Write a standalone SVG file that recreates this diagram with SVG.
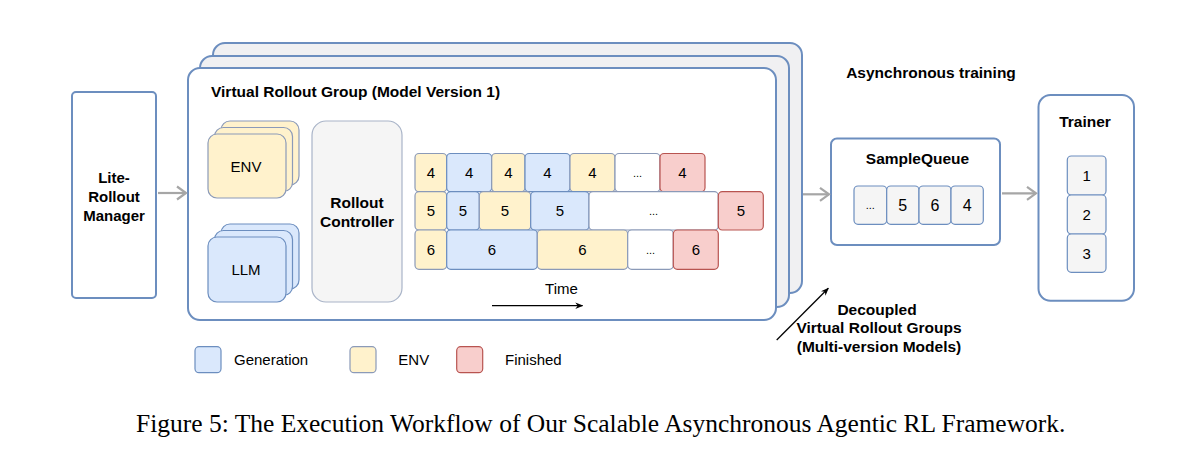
<svg xmlns="http://www.w3.org/2000/svg" width="1200" height="466" viewBox="0 0 1200 466">
<style>
.t{font-family:"Liberation Sans",Arial,sans-serif;font-size:15px;fill:#000;text-anchor:middle}
.b{font-weight:bold;font-size:15.5px}
.d{font-size:11px}
.box{fill:#fff;stroke:#6c8ebf;stroke-width:2}
.back{fill:#f0f0f2;stroke:#6c8ebf;stroke-width:2}
.gen{fill:#dae8fc;stroke:#6c8ebf;stroke-width:1.2}
.env{fill:#fff2cc;stroke:#8b9ab8;stroke-width:1.2}
.fin{fill:#f8cecc;stroke:#b85450;stroke-width:1.2}
.wh{fill:#fff;stroke:#8b9ab8;stroke-width:1.2}
.gr{fill:#f5f5f5;stroke:#6c8ebf;stroke-width:1.2}
.ga{fill:none;stroke:#a6a6a6;stroke-width:2.2}
</style>
<defs>
<marker id="blk" viewBox="0 0 10 10" refX="9" refY="5" markerWidth="8" markerHeight="8" orient="auto" markerUnits="userSpaceOnUse">
<path d="M0,1 L10,5 L0,9 L3,5 Z" fill="#000"/>
</marker>
</defs>
<rect width="1200" height="466" fill="#fff"/>

<g id="manager">
<rect class="box" x="72" y="92" width="84" height="206" rx="4"/>
<text class="t b" x="114" y="183" style="font-size:15px">Lite-</text>
<text class="t b" x="114" y="202" style="font-size:15px">Rollout</text>
<text class="t b" x="114" y="221" style="font-size:15px">Manager</text>
</g>

<g id="rollout-groups">
<rect class="back" x="213" y="43" width="589" height="250" rx="12"/>
<rect class="back" x="200" y="56" width="589" height="251" rx="12"/>
<rect class="box" x="188" y="68" width="588" height="252" rx="12"/>
<text class="t b" x="211" y="97" style="text-anchor:start">Virtual Rollout Group (Model Version 1)</text>
</g>

<g id="env">
<rect class="env" x="221" y="121" width="78" height="64" rx="9"/>
<rect class="env" x="214.5" y="127.5" width="78" height="64" rx="9"/>
<rect class="env" x="208" y="134" width="78" height="64" rx="9"/>
<text class="t" x="246" y="172">ENV</text>
</g>

<g id="llm">
<rect class="gen" x="221" y="224" width="78" height="65" rx="9"/>
<rect class="gen" x="214.5" y="230.5" width="78" height="65" rx="9"/>
<rect class="gen" x="208" y="237" width="78" height="65" rx="9"/>
<text class="t" x="246" y="275">LLM</text>
</g>

<g id="controller">
<rect x="312" y="121" width="90" height="181" rx="14" fill="#f5f5f5" stroke="#a9b4c8" stroke-width="1.2"/>
<text class="t b" x="357" y="208">Rollout</text>
<text class="t b" x="357" y="227">Controller</text>
</g>

<g id="timeline">
<rect class="env" x="415" y="153.5" width="31.7" height="38.2" rx="4"/>
<rect class="gen" x="446.7" y="153.5" width="45" height="38.2" rx="4"/>
<rect class="env" x="491.7" y="153.5" width="33.3" height="38.2" rx="4"/>
<rect class="gen" x="525" y="153.5" width="45" height="38.2" rx="4"/>
<rect class="env" x="570" y="153.5" width="45" height="38.2" rx="4"/>
<rect class="wh" x="615" y="153.5" width="45" height="38.2" rx="4"/>
<rect class="fin" x="660" y="153.5" width="45" height="38.2" rx="4"/>
<text class="t" x="430.8" y="178">4</text>
<text class="t" x="469.2" y="178">4</text>
<text class="t" x="508.3" y="178">4</text>
<text class="t" x="547.5" y="178">4</text>
<text class="t" x="592.5" y="178">4</text>
<text class="t d" x="637.5" y="177">...</text>
<text class="t" x="682.5" y="178">4</text>

<rect class="env" x="415" y="191.7" width="31.7" height="38.3" rx="4"/>
<rect class="gen" x="446.7" y="191.7" width="32.6" height="38.3" rx="4"/>
<rect class="env" x="479.3" y="191.7" width="51.4" height="38.3" rx="4"/>
<rect class="gen" x="530.7" y="191.7" width="58.3" height="38.3" rx="4"/>
<rect class="wh" x="589" y="191.7" width="129.3" height="38.3" rx="4"/>
<rect class="fin" x="718.3" y="191.7" width="45" height="38.3" rx="4"/>
<text class="t" x="430.8" y="216.2">5</text>
<text class="t" x="463" y="216.2">5</text>
<text class="t" x="505" y="216.2">5</text>
<text class="t" x="559.8" y="216.2">5</text>
<text class="t d" x="653.6" y="215.2">...</text>
<text class="t" x="740.8" y="216.2">5</text>

<rect class="env" x="415" y="230" width="31.7" height="39.3" rx="4"/>
<rect class="gen" x="446.7" y="230" width="90.6" height="39.3" rx="4"/>
<rect class="env" x="537.3" y="230" width="90.4" height="39.3" rx="4"/>
<rect class="wh" x="627.7" y="230" width="45.6" height="39.3" rx="4"/>
<rect class="fin" x="673.3" y="230" width="45" height="39.3" rx="4"/>
<text class="t" x="430.8" y="255">6</text>
<text class="t" x="492" y="255">6</text>
<text class="t" x="582.5" y="255">6</text>
<text class="t d" x="650.5" y="254">...</text>
<text class="t" x="695.8" y="255">6</text>

<text class="t" x="561.5" y="294">Time</text>
</g>

<g id="sample-queue">
<rect class="box" x="831" y="138.5" width="169" height="106.5" rx="6"/>
<text class="t b" x="917.5" y="164">SampleQueue</text>
<rect class="gr" x="854" y="186" width="32.7" height="38.3" rx="4"/>
<rect class="gr" x="886.7" y="186" width="32.3" height="38.3" rx="4"/>
<rect class="gr" x="919" y="186" width="32" height="38.3" rx="4"/>
<rect class="gr" x="951" y="186" width="32.3" height="38.3" rx="4"/>
<text class="t d" x="870.3" y="209">...</text>
<text class="t" x="902.8" y="210.5" style="font-size:16px">5</text>
<text class="t" x="935" y="210.5" style="font-size:16px">6</text>
<text class="t" x="967.2" y="210.5" style="font-size:16px">4</text>
</g>

<g id="trainer">
<rect class="box" x="1038.5" y="95" width="95.5" height="205.7" rx="12"/>
<text class="t b" x="1085" y="127">Trainer</text>
<rect class="gr" x="1067.3" y="156" width="38.7" height="39" rx="4"/>
<rect class="gr" x="1067.3" y="195" width="38.7" height="39" rx="4"/>
<rect class="gr" x="1067.3" y="234" width="38.7" height="38.3" rx="4"/>
<text class="t" x="1086.7" y="180.8">1</text>
<text class="t" x="1086.7" y="219.8">2</text>
<text class="t" x="1086.7" y="258.8">3</text>
</g>

<g id="labels">
<text class="t b" x="931" y="78">Asynchronous training</text>
<text class="t b" x="877" y="315">Decoupled</text>
<text class="t b" x="879" y="333">Virtual Rollout Groups</text>
<text class="t b" x="879" y="351.5">(Multi-version Models)</text>
</g>

<g id="legend">
<rect class="gen" x="195" y="346.7" width="26" height="26" rx="4"/>
<text class="t" x="234" y="365" style="text-anchor:start">Generation</text>
<rect class="env" x="350" y="346.7" width="26" height="26" rx="4"/>
<text class="t" x="398.3" y="365" style="text-anchor:start">ENV</text>
<rect class="fin" x="456.7" y="346.7" width="26" height="26" rx="4"/>
<text class="t" x="505" y="365" style="text-anchor:start">Finished</text>
</g>

<g id="connectors">
<line class="ga" x1="158" y1="193" x2="186" y2="193"/>
<polyline class="ga" points="177,186.5 186,193 177,199.5"/>
<line class="ga" x1="803" y1="194.3" x2="829" y2="194.3"/>
<polyline class="ga" points="820,187.8 829,194.3 820,200.8"/>
<line class="ga" x1="1002" y1="193.3" x2="1036" y2="193.3"/>
<polyline class="ga" points="1027,186.8 1036,193.3 1027,199.8"/>
<line x1="492" y1="305.7" x2="582.5" y2="305.7" stroke="#000" stroke-width="1.3" marker-end="url(#blk)"/>
<line x1="776.7" y1="340" x2="828.3" y2="288.3" stroke="#000" stroke-width="1.3" marker-end="url(#blk)"/>
</g>

<text x="136" y="431.7" style="font-family:'Liberation Serif','Times New Roman',serif;font-size:25.5px;fill:#000">Figure 5: The Execution Workflow of Our Scalable Asynchronous Agentic RL Framework.</text>
</svg>
